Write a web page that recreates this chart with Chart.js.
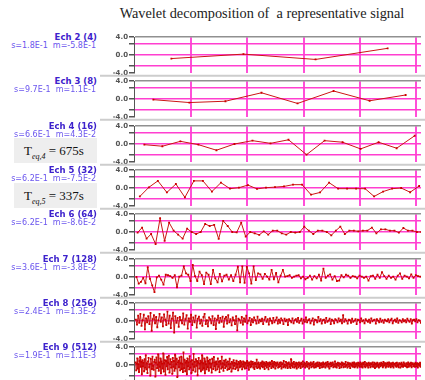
<!DOCTYPE html>
<html>
<head>
<meta charset="utf-8">
<script src="https://cdn.jsdelivr.net/npm/chart.js@4.4.0/dist/chart.umd.min.js"></script>
<style>
body{margin:0;width:425px;height:380px;overflow:hidden;background:#fff;position:relative;font-family:"DejaVu Sans",sans-serif}
#title{position:absolute;left:112px;top:5px;width:300px;text-align:center;font:14.3px "Liberation Serif",serif;color:#222;white-space:pre}
.ech{position:absolute;right:328px;text-align:right;white-space:pre;font-weight:bold;font-size:8.5px;color:#3d22cc}
.st{position:absolute;right:329px;text-align:right;white-space:pre;font-size:8px;color:#6a55ee}
.teq{position:absolute;left:14px;width:83px;height:25px;background:#eeeeee;font:13px "Liberation Serif",serif;color:#111;line-height:25px;padding-left:10px;box-sizing:border-box;white-space:pre}
.teq sub{font-size:8px;font-style:italic}
canvas{position:absolute;left:100px}
</style>
</head>
<body>
<div id="title">Wavelet decomposition of  a representative signal</div>
<div class="teq" style="top:138px">T<sub>eq,4</sub> = 675s</div>
<div class="teq" style="top:183px">T<sub>eq,5</sub> = 337s</div>
<script>
const levels = ['Ech 2 (4)', 'Ech 3 (8)', 'Ech 4 (16)', 'Ech 5 (32)', 'Ech 6 (64)', 'Ech 7 (128)', 'Ech 8 (256)', 'Ech 9 (512)'];
const stats = ['s=1.8E-1  m=-5.8E-1', 's=9.7E-1  m=1.1E-1', 's=6.6E-1  m=4.3E-2', 's=6.2E-1  m=-7.5E-2',
               's=6.2E-1  m=-8.6E-2', 's=3.6E-1  m=-3.8E-2', 's=2.4E-1  m=1.3E-2', 's=1.9E-1  m=1.1E-3'];
const yTicks = [-4, -2.5, 0, 2.5, 4];
const yLabels = ['-4.0', '', '0.0', '', '4.0'];
const xGrid = [2100, 4200, 6300, 8400, 10500];
const TOTAL = 10800; // seconds

const ech2 = [-0.8, 0.2, -1.0, 1.5];
const ech3 = [-0.15, -0.8, -0.5, 1.4, -1.0, 1.8, -0.4, 0.9];
const ech4 = [-0.15, -0.5, 0.6, -0.15, -1.4, 0, 0.75, 0.15, 0.95, -2.4, 0.75, 0.4, -1.1, 0.4, -0.95, 1.85];
const ech5 = [-1.9, 0.15, 1.6, -1.0, 0.9, -2.1, 1.6, 1.6, -0.8, 1.2, -0.15, 0.07, 0.65, -0.2, 0.07, 0.2,
              0.35, 0.75, 0.75, -1.5, -1.0, 1.2, -0.15, -0.15, -0.15, -0.15, -1.9, -0.8, -0.15, 0, -0.95, 0.45];
const ech6 = [-0.15, 1.0, -1.5, -0.45, -2.7, 3.1, -2.0, 2.1, 0.3, -0.6, -1.5, 0.75, 0, -0.45, 0, 1.8,
              1.35, 1.6, -1.55, 2.5, 1.35, 0, -0.1, 2.1, -1.05, 0, -0.3, -0.65, 0.15, -0.6, 0.3, 0.3,
              -0.3, -0.6, 0, -0.15, 0, 1.2, 0.3, -0.45, 0.3, 0.3, 0, -0.75, 0.3, 1.2, -0.45, 0.3,
              0.3, 0.15, 0.3, 0.3, 1.0, -0.3, 0.6, 0.6, 0.3, 0.3, -0.15, 0.9, 0.3, 0.3, 0, 0];
const ech7 = [0, -1.5, -1.1, -0.2, -1.4, 2.2, -0.4, -1.9, -3.4, -0.1, 0.3, -0.6, -1.7, 0.5, 0.4, 0.2,
              -0.2, 0.4, -2.3, 0.1, 0.3, 2.4, 0.8, 0.5, -0.9, 2.7, 0.2, -0.9, 1.2, 0.4, -1.6, 1.0,
              0.5, -1.6, 1.6, -0.3, -1.2, 0.7, -1.0, 0.3, 0.5, -0.6, 0.4, -0.9, 0.5, 2.3, -1.2, 2.4,
              -1.3, 2.3, 0.8, -1.5, 2.4, -0.7, 0.8, 0.6, -0.4, 0.7, 0.1, -0.6, 1.6, -0.5, 0.9, -1.2,
              0.3, 1.6, 0.1, 0.2, 0.4, -0.2, 0.1, 0.3, 0.4, -0.3, 0.1, -0.5, -0.2, 0.3, -0.6, 0.2,
              -0.3, 0.5, -0.8, 1.9, -0.2, 0.3, 0.6, -0.6, 0.2, -0.9, -0.8, 0.4, -0.1, 0.5, 0.3, -0.2,
              0.2, 0.1, -0.3, 0.3, 0.1, -0.2, 0.1, -0.8, 0.2, 0.3, -0.4, 0.5, -0.2, 1.1, 0.2, -0.4,
              0.3, -0.2, 0.1, -0.6, 0.3, 0.8, -0.4, 0.3, 0.1, -0.3, 0.6, -0.2, 0.4, 0.2, 0.1, -0.1];
const ech8 = [0.3,-0.8,1.2,-0.4,1.6,-1.1,0.2,1.4,-1.9,0.6,-0.3,1.1,-0.7,1.8,-2.2,0.4,
              1.3,-0.5,0.9,-1.4,0.2,1.6,-0.2,0.8,-1.2,1.5,0.3,-0.9,2.1,-0.6,1.2,-1.6,
              0.5,1.9,-2.6,1.1,-0.4,0.7,-1.3,0.9,0.2,-0.5,1.7,-0.8,0.4,1.3,-1.7,0.6,
              -0.2,1.4,-0.9,0.8,-0.3,1.2,-1.5,0.5,1.0,-0.6,0.3,-1.1,0.9,1.6,-0.7,0.2,
              -1.2,0.8,0.4,-0.5,1.1,-0.9,0.6,-1.8,0.3,1.2,-0.4,0.7,-0.2,1.0,-1.3,0.5,
              0.9,-0.6,1.3,-0.3,0.4,-1.0,0.8,0.2,-0.7,1.1,-2.1,0.5,0.3,-0.4,0.9,-0.8,
              0.6,-0.2,1.2,-0.5,0.1,0.7,-0.9,0.4,-0.3,0.8,0.2,-0.6,1.0,-0.4,0.3,-0.1,
              0.5,-0.7,0.3,0.9,-0.2,0.4,-0.8,0.6,0.1,-0.5,0.7,-0.3,0.2,0.8,-0.6,0.3,
              -0.4,0.6,0.2,-0.7,0.5,-0.1,0.3,-0.9,0.4,0.1,-0.3,0.6,-0.5,0.2,0.4,-0.2,
              0.7,-0.4,0.1,0.5,-0.6,0.3,-0.2,0.8,-0.3,0.2,0.4,-0.5,0.1,0.6,-0.8,0.3,
              0.2,-0.3,0.9,-0.1,0.4,-0.6,0.2,0.3,-0.4,0.7,-0.2,0.1,0.5,-0.7,0.3,0.1,
              -0.5,0.4,0.2,-0.3,0.6,-0.1,0.3,-0.5,1.3,-0.2,0.4,0.1,-0.6,0.3,0.2,-0.4,
              0.5,-0.2,0.1,0.4,-0.7,0.3,0.2,-0.3,0.6,-0.1,0.2,-0.5,0.4,0.1,-0.2,0.3,
              -0.4,0.6,-0.1,0.2,0.3,-0.6,0.4,0.1,-0.3,0.5,-0.2,0.2,-0.4,0.3,0.1,-0.1,
              0.4,-0.3,0.2,0.5,-0.5,0.1,0.3,-0.2,0.6,-0.4,0.2,0.1,-0.3,0.4,-0.1,0.2,
              -0.3,0.5,0.1,-0.2,0.4,-0.6,0.2,0.3,-0.1,0.4,-0.3,0.2,0.1,-0.4,0.3,0.0];
const ech9 = [0.6,-1.2,0.3,1.5,-0.8,0.2,-1.6,0.9,1.8,-0.4,0.7,-2.1,1.1,-0.3,0.5,-1.4,
              1.3,-0.6,2.2,-1.0,0.4,-1.8,0.8,1.6,-0.5,0.2,-2.4,1.4,0.3,-0.9,1.9,-0.2,
              -1.1,0.7,1.2,-2.6,0.5,1.7,-0.7,0.1,2.4,-1.3,0.6,-0.4,1.5,-1.9,0.8,0.3,
              -0.8,2.6,-1.5,0.4,1.1,-2.2,0.9,-0.3,1.8,-1.0,0.5,2.1,-1.7,0.2,1.3,-0.6,
              0.7,-2.0,1.6,-0.4,0.9,-1.3,2.3,-0.8,0.2,1.4,-2.7,0.6,1.0,-0.5,1.7,-1.2,
              0.4,1.9,-0.9,0.3,-1.6,2.8,-0.7,1.2,-1.4,0.5,0.9,-2.1,1.5,-0.3,0.6,-1.0,
              2.0,-0.6,0.8,-1.8,1.1,0.2,-1.2,2.5,-0.4,0.7,-1.5,1.3,-0.2,0.9,-2.3,0.5,
              1.6,-0.8,0.3,1.0,-1.4,0.6,2.2,-1.1,0.4,-0.7,1.5,-1.9,0.8,0.2,-1.0,1.7,
              -0.5,0.9,-1.3,0.4,1.2,-0.6,0.3,-1.7,1.4,0.5,-0.9,1.8,-0.3,0.6,-1.2,0.8,
              0.2,-1.0,1.5,-0.4,0.7,-1.6,0.9,0.3,-0.8,1.9,-0.5,0.4,-1.3,1.0,0.1,-0.7,
              1.2,-0.3,0.6,-1.1,0.8,0.2,-0.9,1.4,-0.6,0.3,-1.5,0.7,0.4,-0.8,1.1,-0.2,
              0.5,-0.9,0.3,1.0,-0.6,0.2,-1.2,0.7,0.4,-0.5,0.9,-0.3,0.6,-1.0,0.2,0.8,
              -0.4,0.6,-0.8,0.3,0.5,-0.7,0.9,-0.2,0.4,-1.1,0.6,0.1,-0.5,0.8,-0.3,0.2,
              0.7,-0.6,0.3,-0.9,0.5,0.2,-0.4,1.2,-0.7,0.3,0.6,-0.5,0.1,-0.8,0.4,0.5,
              -0.3,0.8,-0.5,0.2,0.6,-0.9,0.3,-0.2,0.7,-0.6,0.4,0.1,-1.0,0.5,-0.3,0.6,
              0.2,-0.7,0.9,-0.3,0.4,-0.5,0.7,0.1,-0.8,0.5,-0.2,0.3,0.6,-0.6,0.2,-0.4,
              0.5,-0.3,0.6,-0.8,0.2,0.4,-0.5,0.9,-0.3,0.1,-0.6,0.7,-0.2,0.4,-0.7,0.3,
              0.6,-0.4,0.2,-0.7,1.3,-0.2,0.4,-0.5,0.3,0.7,-0.6,0.2,-0.3,0.5,-0.8,0.4,
              0.1,-0.5,0.6,-0.2,0.3,-0.7,0.5,0.2,-0.4,0.8,-0.3,0.1,0.5,-0.6,0.3,-0.2,
              0.7,-0.4,0.2,0.4,-0.8,0.3,-0.1,0.6,-0.5,0.2,0.4,-0.3,0.7,-0.6,0.1,0.3,
              -0.5,0.4,-0.2,0.6,-0.3,0.1,0.5,-0.7,0.3,-0.1,0.4,-0.5,0.2,0.6,-0.4,0.2,
              0.3,-0.6,0.5,-0.2,0.1,0.7,-0.4,0.3,-0.8,0.2,0.5,-0.3,0.4,-0.1,0.6,-0.5,
              0.2,-0.3,0.8,-0.4,0.3,-0.6,0.1,0.5,-0.2,0.4,-0.7,0.3,0.2,-0.5,0.6,-0.1,
              0.4,-0.5,0.2,0.3,-0.4,0.7,-0.2,0.1,-0.6,0.5,0.2,-0.3,0.4,-0.7,0.3,0.1,
              -0.2,0.5,-0.4,0.3,0.6,-0.5,0.2,-0.3,0.4,0.1,-0.6,0.5,-0.2,0.3,-0.4,0.6,
              0.1,-0.4,0.3,-0.6,0.5,0.2,-0.3,0.7,-0.5,0.1,0.4,-0.2,0.3,-0.6,0.5,-0.1,
              0.3,-0.5,0.4,0.2,-0.3,0.6,-0.4,0.1,0.5,-0.7,0.2,0.3,-0.4,0.5,-0.2,0.1,
              -0.6,0.4,0.2,-0.3,0.5,-0.1,0.3,-0.5,0.7,-0.2,0.1,0.4,-0.6,0.3,-0.3,0.5,
              0.2,-0.4,0.6,-0.2,0.3,-0.5,0.4,0.1,-0.3,0.5,-0.6,0.2,0.3,-0.2,0.4,-0.4,
              0.5,-0.2,0.1,-0.5,0.4,0.3,-0.6,0.2,0.5,-0.3,0.1,-0.4,0.6,-0.2,0.3,-0.1,
              -0.3,0.4,-0.5,0.2,0.6,-0.4,0.1,0.3,-0.2,0.5,-0.5,0.2,0.4,-0.3,0.1,0.3,
              -0.4,0.5,0.2,-0.3,0.4,-0.6,0.3,0.1,-0.2,0.5,-0.4,0.2,0.3,-0.5,0.1,0.0];
const series = [ech2, ech3, ech4, ech5, ech6, ech7, ech8, ech9];

const separator = {
    id: 'separator',
    afterDraw(chart) {
        const { ctx, chartArea } = chart;
        ctx.save();
        ctx.strokeStyle = '#cdcdcd';
        ctx.lineWidth = 2;
        ctx.beginPath();
        ctx.moveTo(0, chartArea.bottom + 3);
        ctx.lineTo(chart.width, chartArea.bottom + 3);
        ctx.stroke();
        ctx.restore();
    }
};

series.forEach((values, k) => {
    const top = Math.round(37 + k * 44.33);

    const ech = document.createElement('div');
    ech.className = 'ech';
    ech.style.top = (top - 5) + 'px';
    ech.textContent = levels[k];
    document.body.appendChild(ech);

    const st = document.createElement('div');
    st.className = 'st';
    st.style.top = (top + 4) + 'px';
    st.textContent = stats[k];
    document.body.appendChild(st);

    const canvas = document.createElement('canvas');
    canvas.width = 325;
    canvas.height = 46;
    canvas.style.top = (top - 5) + 'px';
    document.body.appendChild(canvas);

    const n = values.length;
    new Chart(canvas, {
        type: 'line',
        data: {
            datasets: [{
                data: values.map((v, i) => ({ x: (i + 0.5) * TOTAL / n, y: v })),
                borderColor: '#cc1515',
                borderWidth: 1,
                pointStyle: 'rect',
                pointRadius: 1.3,
                pointBorderWidth: 0,
                pointBackgroundColor: '#cc0000',
                tension: 0
            }]
        },
        options: {
            responsive: false,
            animation: false,
            layout: { padding: { top: 5, bottom: 5, left: 0, right: 0 } },
            plugins: { legend: { display: false }, tooltip: { enabled: false } },
            scales: {
                x: {
                    type: 'linear',
                    min: -50,
                    max: 10700,
                    afterBuildTicks: s => { s.ticks = xGrid.map(v => ({ value: v })); },
                    afterFit: s => { s.height = 0; },
                    ticks: { display: false },
                    grid: { color: '#ff4fd8', lineWidth: 2, drawTicks: false },
                    border: { display: false }
                },
                y: {
                    min: -4,
                    max: 4,
                    afterBuildTicks: s => { s.ticks = yTicks.map(v => ({ value: v })); },
                    afterFit: s => { s.width = 34; },
                    ticks: {
                        autoSkip: false,
                        callback: v => yLabels[yTicks.indexOf(v)],
                        font: { family: 'DejaVu Sans', size: 7, weight: 'bold' },
                        color: '#555',
                        padding: 1
                    },
                    grid: {
                        color: c => c.tick.value === 4 ? '#909090' : (c.tick.value === -4 ? 'rgba(0,0,0,0)' : '#ff3fd0'),
                        lineWidth: 1.5,
                        tickLength: 5,
                        tickColor: '#555'
                    },
                    border: { color: '#555' }
                }
            }
        },
        plugins: [separator]
    });
});
</script>
</body>
</html>
